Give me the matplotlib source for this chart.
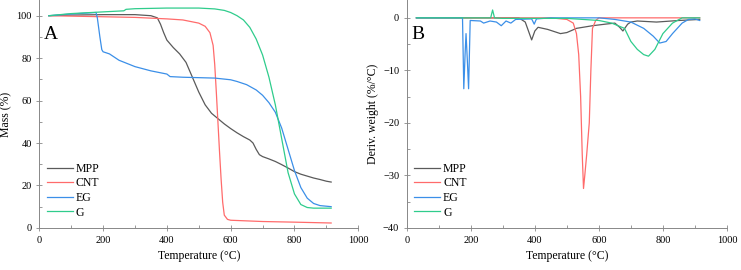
import numpy as np
import matplotlib
matplotlib.use("Agg")
import matplotlib.pyplot as plt
from matplotlib.ticker import MultipleLocator

plt.rcParams['font.family'] = ['Liberation Serif', 'DejaVu Serif']

# ----- TGA (mass %) -----
t_mpp = [30, 100, 200, 300, 350, 370, 380, 390, 400, 420, 440, 460, 480, 500, 520, 540, 560, 580,
         600, 620, 640, 660, 670, 680, 690, 700, 720, 740, 760, 780, 800, 820, 840, 860, 880, 900, 915]
m_mpp = [100, 100.3, 100.5, 100.5, 100, 99, 96, 92, 88.5, 85, 82, 78, 71, 64, 58, 54, 51.5, 49,
         46.8, 44.8, 43, 41.4, 40, 37, 34.5, 33.6, 32.5, 31.3, 29.8, 28.2, 26.5, 25.3, 24.4, 23.5, 22.8, 22, 21.6]

t_cnt = [30, 200, 300, 400, 450, 500, 520, 535, 545, 550, 555, 560, 565, 570, 575, 580, 590, 600, 700, 800, 915]
m_cnt = [100, 99.5, 99.2, 98.5, 98, 96.5, 95, 92, 86, 77, 64, 50, 36, 23, 12, 6, 4, 3.6, 3, 2.7, 2.3]

t_eg = [30, 100, 178, 182, 190, 196, 200, 220, 250, 300, 350, 400, 410, 450, 500, 550, 600, 620,
        650, 680, 700, 720, 740, 760, 780, 800, 820, 840, 860, 880, 915]
m_eg = [100, 100.8, 101.5, 99, 90, 84, 83, 82, 79, 76, 74, 72.5, 71.3, 71, 70.8, 70.6, 69.8, 69,
        67.5, 65, 62.5, 59, 54.5, 47, 37, 27, 19, 14, 11.5, 10.5, 10]

t_g = [30, 100, 200, 265, 272, 300, 400, 500, 550, 580, 600, 620, 640, 660, 680, 700, 720, 740,
       760, 780, 800, 820, 840, 860, 915]
m_g = [100, 101, 101.8, 102.3, 103, 103.3, 103.6, 103.6, 103.2, 102.5, 101.5, 100, 98, 94.5, 89, 81.5,
       71, 58, 42, 26, 16, 11, 9.6, 9.3, 9.3]

# ----- DTG (deriv. weight) -----
d_t_mpp = [30, 350, 370, 380, 390, 400, 410, 440, 480, 500, 530, 580, 620, 650, 665, 675, 690, 700,
           720, 780, 850, 915]
d_mpp = [0, 0, -0.8, -2.5, -4.2, -2.5, -1.8, -2.2, -3, -2.8, -2, -1.5, -1.2, -1, -1.8, -2.5, -1.2, -0.8,
         -0.6, -0.8, -0.5, -0.3]

d_t_cnt = [30, 450, 500, 520, 530, 537, 543, 548, 552, 556, 562, 570, 575, 580, 590, 600, 915]
d_cnt = [0, 0, -0.3, -1, -3, -7, -15, -26, -32.5, -30, -26, -20, -10, -2, -0.5, 0, 0]

d_t_eg = [30, 174, 178, 182, 185, 189, 193, 198, 230, 240, 260, 280, 295, 310, 325, 340, 390, 398,
          405, 450, 600, 650, 700, 740, 770, 790, 810, 830, 860, 880, 900, 915]
d_eg = [0, 0, -13.5, -7, -3, -8, -13.5, -0.5, -0.6, -1, -0.6, -0.8, -1.5, -0.6, -1, -0.3, -0.2, -1.2,
        -0.2, 0, 0, -0.3, -0.8, -2, -3.5, -4.8, -4.5, -3, -1, -0.3, -0.2, -0.5]

d_t_g = [30, 262, 268, 274, 300, 500, 600, 640, 680, 700, 720, 740, 755, 775, 800, 830, 860, 915]
d_g = [0, 0, 1.5, 0, -0.1, -0.1, -0.5, -1, -2, -4.5, -6, -7, -7.3, -6, -3, -1, 0, 0]

names = ["MPP", "CNT", "EG", "G"]
colors = ["#5a5a5a", "#ff6b6b", "#3b8fe8", "#2fcc8c"]

fig = plt.figure(figsize=(7.41, 2.70), dpi=100)
axA = fig.add_axes([0.053, 0.156, 0.4305, 0.844])
axB = fig.add_axes([0.549, 0.156, 0.432, 0.844])

tga = [(t_mpp, m_mpp), (t_cnt, m_cnt), (t_eg, m_eg), (t_g, m_g)]
dtg = [(d_t_mpp, d_mpp), (d_t_cnt, d_cnt), (d_t_eg, d_eg), (d_t_g, d_g)]

for (x, y), nm, c in zip(tga, names, colors):
    axA.plot(x, y, color=c, lw=0.9, label=nm)
for (x, y), nm, c in zip(dtg, names, colors):
    axB.plot(x, y, color=c, lw=0.9, label=nm)

axA.set_xlim(0, 1000)
axA.set_ylim(0, 107.4)
axA.yaxis.set_major_locator(MultipleLocator(20))
axA.yaxis.set_minor_locator(MultipleLocator(10))
axA.set_ylabel("Mass (%)", fontsize=8.5, labelpad=3)

axB.set_xlim(0, 1000)
axB.set_ylim(-40, 3.4)
axB.yaxis.set_major_locator(MultipleLocator(10))
axB.yaxis.set_minor_locator(MultipleLocator(5))
axB.set_ylabel("Deriv. weight (%/°C)", fontsize=8.5, labelpad=3)

for ax, letter in [(axA, "A"), (axB, "B")]:
    ax.xaxis.set_major_locator(MultipleLocator(200))
    ax.xaxis.set_minor_locator(MultipleLocator(100))
    ax.set_xlabel("Temperature (°C)", fontsize=8.5, labelpad=4)
    for s in ["top", "right"]:
        ax.spines[s].set_visible(False)
    for s in ["left", "bottom"]:
        ax.spines[s].set_color("#888888")
        ax.spines[s].set_linewidth(0.7)
    ax.tick_params(which="major", direction="inout", length=4, width=0.6, color="#888888",
                   labelsize=7.5, pad=3.5)
    ax.tick_params(which="minor", direction="in", length=2, width=0.6, color="#888888")
    ax.text(0.013, 0.829, letter, transform=ax.transAxes, fontsize=14, va="baseline")
    ax.legend(loc="lower left", bbox_to_anchor=(0.008, 0.02), frameon=False, fontsize=8.5,
              handlelength=2.2, handletextpad=0.25, labelspacing=0.22, borderaxespad=0.0)

fig.savefig("out.png", dpi=100)
